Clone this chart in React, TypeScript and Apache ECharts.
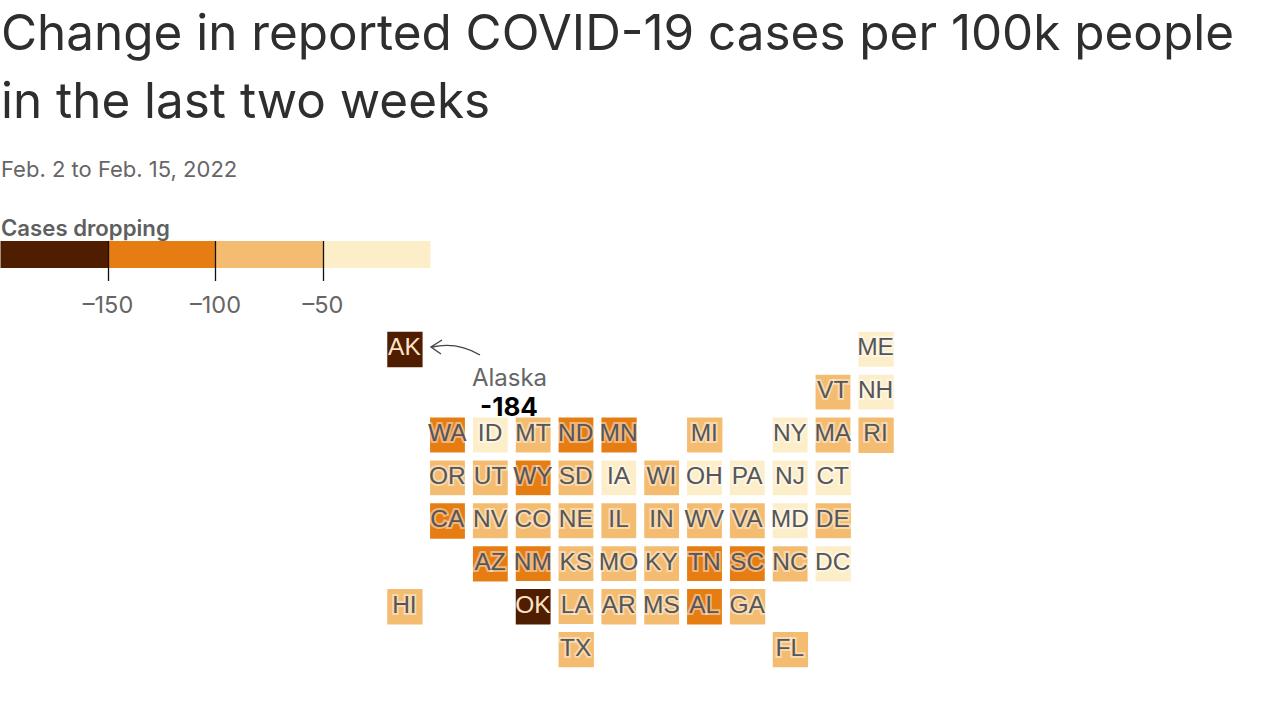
import React, { useEffect, useRef } from "react";
import * as echarts from "echarts";

const titleText = "Change in reported COVID-19 cases per 100k people\nin the last two weeks";
const subtitleText = "Feb. 2 to Feb. 15, 2022";
const legendTitle = "Cases dropping";
const legendTicks = [-150, -100, -50];
const legendBand = [-50, -50, -50, -50];
const colors = ["#fdeeca", "#f4bc70", "#e67d13", "#4f1e00"];

const gridColumns = ["0", "1", "2", "3", "4", "5", "6", "7", "8", "9", "10", "11"];
const gridRows = ["0", "1", "2", "3", "4", "5", "6", "7"];

const states = [
  "AK", "ME", "VT", "NH",
  "WA", "ID", "MT", "ND", "MN", "MI", "NY", "MA", "RI",
  "OR", "UT", "WY", "SD", "IA", "WI", "OH", "PA", "NJ", "CT",
  "CA", "NV", "CO", "NE", "IL", "IN", "WV", "VA", "MD", "DE",
  "AZ", "NM", "KS", "MO", "KY", "TN", "SC", "NC", "DC",
  "HI", "OK", "LA", "AR", "MS", "AL", "GA",
  "TX", "FL",
];
const stateColumn = [
  0, 11, 10, 11,
  1, 2, 3, 4, 5, 7, 9, 10, 11,
  1, 2, 3, 4, 5, 6, 7, 8, 9, 10,
  1, 2, 3, 4, 5, 6, 7, 8, 9, 10,
  2, 3, 4, 5, 6, 7, 8, 9, 10,
  0, 3, 4, 5, 6, 7, 8,
  4, 9,
];
const stateRow = [
  0, 0, 1, 1,
  2, 2, 2, 2, 2, 2, 2, 2, 2,
  3, 3, 3, 3, 3, 3, 3, 3, 3, 3,
  4, 4, 4, 4, 4, 4, 4, 4, 4, 4,
  5, 5, 5, 5, 5, 5, 5, 5, 5,
  6, 6, 6, 6, 6, 6, 6,
  7, 7,
];
const caseChange = [
  -184, -30, -70, -40,
  -120, -45, -85, -125, -118, -80, -35, -75, -90,
  -80, -88, -130, -78, -42, -72, -44, -38, -28, -36,
  -115, -82, -76, -74, -70, -84, -86, -72, -30, -88,
  -125, -135, -80, -76, -90, -128, -132, -85, -25,
  -72, -165, -78, -82, -92, -122, -86,
  -74, -88,
];
const darkLabelStates = ["AK", "OK"];

export default function App() {
  const ref = useRef<HTMLDivElement>(null);
  useEffect(() => {
    document.body.style.margin = "0";
    const chart = echarts.init(ref.current!, null, { renderer: "svg" });
    const font = "Inter";
    chart.setOption({
      animation: false,
      backgroundColor: "#ffffff",
      title: [
        {
          text: titleText, left: 1, top: -2, padding: 0,
          textStyle: { fontFamily: font, fontSize: 49.4, fontWeight: 400, color: "#2e2e2e", lineHeight: 68 },
        },
        {
          text: subtitleText, left: 1, top: 157, padding: 0,
          textStyle: { fontFamily: font, fontSize: 22, fontWeight: 400, color: "#666666", lineHeight: 24 },
        },
        {
          text: legendTitle, left: 1, top: 215, padding: 0,
          textStyle: { fontFamily: font, fontSize: 22.2, fontWeight: 600, color: "#5f5f5f", lineHeight: 24 },
        },
      ],
      grid: [
        { left: 383.5, top: 328, width: 514, height: 343 },
        { left: 0.5, top: 241, width: 430, height: 27 },
      ],
      xAxis: [
        { type: "category", gridIndex: 0, data: gridColumns, show: false },
        {
          type: "value", gridIndex: 1, min: -200, max: 0, interval: 50, position: "top", z: 10,
          axisLine: { show: false },
          splitLine: { show: false },
          axisTick: { show: true, inside: true, length: 40, customValues: legendTicks, lineStyle: { color: "#111111", width: 1.3 } },
          axisLabel: {
            show: true, inside: true, margin: 51, customValues: legendTicks,
            formatter: (v: number) => "\u2013" + Math.abs(v),
            fontFamily: font, fontSize: 23.5, color: "#666666",
          },
        },
      ],
      yAxis: [
        { type: "category", gridIndex: 0, data: gridRows, inverse: true, show: false },
        { type: "category", gridIndex: 1, data: ["band"], show: false },
      ],
      visualMap: {
        show: false, seriesIndex: 0, dimension: 2,
        pieces: [
          { lt: -150, color: colors[3] },
          { gte: -150, lt: -100, color: colors[2] },
          { gte: -100, lt: -50, color: colors[1] },
          { gte: -50, color: colors[0] },
        ],
      },
      series: [
        {
          type: "heatmap", xAxisIndex: 0, yAxisIndex: 0,
          itemStyle: { borderColor: "#ffffff", borderWidth: 8 },
          emphasis: { disabled: true },
          label: {
            show: true, formatter: (p: any) => p.name,
            fontFamily: "Liberation Sans", fontSize: 24.5, color: "#55565a",
            textBorderColor: "rgba(255,255,255,0.45)", textBorderWidth: 4, offset: [-0.5, -2.5],
          },
          data: states.map((s, i) => ({
            name: s,
            value: [stateColumn[i], stateRow[i], caseChange[i]],
            label: darkLabelStates.includes(s)
              ? { color: "#fde3c4", textBorderWidth: 0 }
              : undefined,
          })),
        },
        ...legendBand.map((v, i) => ({
          type: "bar", xAxisIndex: 1, yAxisIndex: 1, stack: "legend", barWidth: "100%",
          silent: true, data: [v], itemStyle: { color: colors[i] },
        })),
      ],
      graphic: [
        { type: "text", z: 100, style: { x: 509.5, y: 377, text: "Alaska", align: "center", verticalAlign: "middle", fontFamily: font, fontSize: 24, fill: "#666666" } },
        { type: "text", z: 100, style: { x: 509, y: 406.5, text: "-184", align: "center", verticalAlign: "middle", fontFamily: font, fontSize: 26, fontWeight: 700, fill: "#000000" } },
        { type: "bezierCurve", z: 100, shape: { x1: 480, y1: 355, cpx1: 465, cpy1: 346, cpx2: 450, cpy2: 343, x2: 432, y2: 347 }, style: { stroke: "#444444", lineWidth: 1.4, fill: "none" } },
        { type: "polyline", z: 100, shape: { points: [[442, 340], [431, 347], [441, 354]] }, style: { stroke: "#444444", lineWidth: 1.4, fill: "none" } },
      ],
    });
    return () => chart.dispose();
  }, []);
  return <div ref={ref} style={{ width: 1280, height: 719 }} />;
}
